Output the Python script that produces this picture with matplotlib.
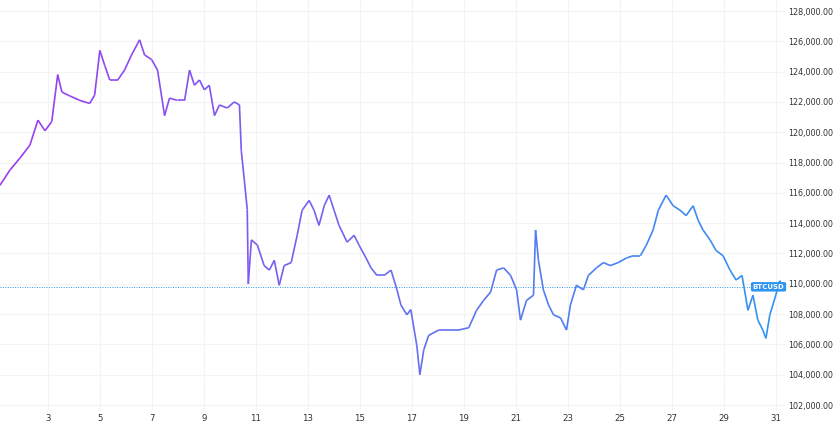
import numpy as np
import matplotlib
matplotlib.use("Agg")
import matplotlib.pyplot as plt
from matplotlib.collections import LineCollection
from matplotlib.colors import LinearSegmentedColormap
from matplotlib.ticker import FuncFormatter

days = [1.16, 1.54, 1.93, 2.31, 2.62, 2.89, 3.15, 3.38, 3.54, 3.84, 4.23, 4.61, 4.80, 5.00, 5.19,
        5.38, 5.69, 5.95, 6.22, 6.53, 6.72, 6.99, 7.22, 7.49, 7.68, 7.99, 8.26, 8.45, 8.64, 8.83,
        9.02, 9.21, 9.41, 9.60, 9.90, 10.17, 10.37, 10.44, 10.56, 10.67, 10.71, 10.83, 11.06, 11.32,
        11.52, 11.71, 11.90, 12.09, 12.36, 12.59, 12.78, 13.05, 13.24, 13.43, 13.63, 13.82, 14.01,
        14.20, 14.51, 14.78, 14.97, 15.24, 15.43, 15.66, 15.93, 16.20, 16.43, 16.58, 16.81, 16.96,
        17.19, 17.31, 17.46, 17.65, 18.04, 18.42, 18.80, 19.19, 19.49, 19.76, 20.03, 20.26, 20.53,
        20.80, 21.03, 21.18, 21.41, 21.68, 21.76, 21.87, 22.06, 22.26, 22.45, 22.72, 22.95, 23.10,
        23.33, 23.60, 23.79, 24.10, 24.37, 24.63, 24.94, 25.25, 25.52, 25.79, 26.02, 26.28, 26.48,
        26.78, 27.05, 27.32, 27.55, 27.82, 28.01, 28.20, 28.47, 28.70, 28.97, 29.24, 29.47, 29.70,
        29.93, 30.12, 30.31, 30.50, 30.62, 30.77, 31.00, 31.15, 31.30]
prices = [116500, 117500, 118300, 119150, 120800, 120100, 120700, 123800, 122650, 122400, 122100,
          121900, 122450, 125400, 124400, 123450, 123450, 124100, 125100, 126100, 125100, 124800,
          124100, 121100, 122250, 122100, 122100, 124100, 123100, 123450, 122800, 123100, 121100,
          121800, 121600, 122000, 121800, 118800, 116800, 114900, 110000, 112900, 112550, 111200,
          110900, 111550, 109900, 111200, 111400, 113200, 114850, 115500, 114850, 113850, 115150,
          115850, 114850, 113850, 112750, 113200, 112550, 111700, 111050, 110550, 110550, 110900,
          109600, 108600, 107950, 108300, 105950, 104000, 105650, 106600, 106950, 106950, 106950,
          107100, 108250, 108900, 109450, 110900, 111050, 110550, 109600, 107600, 108900, 109250,
          113550, 111550, 109600, 108600, 107950, 107750, 106950, 108600, 109900, 109600, 110550,
          111050, 111400, 111200, 111400, 111700, 111850, 111850, 112550, 113550, 114850, 115850,
          115150, 114850, 114500, 115150, 114200, 113550, 112900, 112200, 111850, 110900, 110250,
          110550, 108250, 109250, 107600, 106950, 106400, 107950, 109250, 110200, 109800]
last_price = 109800
xtick_days = [3, 5, 7, 9, 11, 13, 15, 17, 19, 21, 23, 25, 27, 29, 31]
ytick_vals = list(range(102000, 128001, 2000))

fig = plt.figure(figsize=(8.35, 4.25), dpi=100)
ax = fig.add_axes([0, 0.035, 0.94, 0.965])

x = np.array(days)
y = np.array(prices)
pts = np.column_stack([x, y]).reshape(-1, 1, 2)
segs = np.concatenate([pts[:-1], pts[1:]], axis=1)
cmap = LinearSegmentedColormap.from_list("pb", ["#9c3cf0", "#6a6cf0", "#2f95f0"])
lc = LineCollection(segs, cmap=cmap, linewidth=1.2)
lc.set_array((x[:-1] - x.min()) / (x.max() - x.min()))
lc.set_clim(0, 1)
ax.add_collection(lc)

ax.axhline(last_price, color="#2f95f0", lw=0.7, ls=(0, (1, 1.5)))

ax.set_xlim(1.16, 31.35)
ax.set_ylim(101663, 128726)
ax.set_xticks(xtick_days)
ax.set_yticks(ytick_vals)
ax.yaxis.tick_right()
ax.yaxis.set_major_formatter(FuncFormatter(lambda v, p: f"{v:,.2f}"))
ax.tick_params(axis="y", length=0, labelsize=5.8, colors="#333333", pad=2)
ax.tick_params(axis="x", length=0, labelsize=6.2, colors="#333333", pad=3)
ax.grid(color="#f3f3f3", lw=0.8)
for s in ax.spines.values():
    s.set_visible(False)

ax.text(31.33, last_price, "BTCUSD", color="white", fontsize=5, fontweight="bold",
        ha="right", va="center",
        bbox=dict(boxstyle="round,pad=0.25", fc="#2f95f0", ec="none"))

plt.savefig("out.png", dpi=100)
